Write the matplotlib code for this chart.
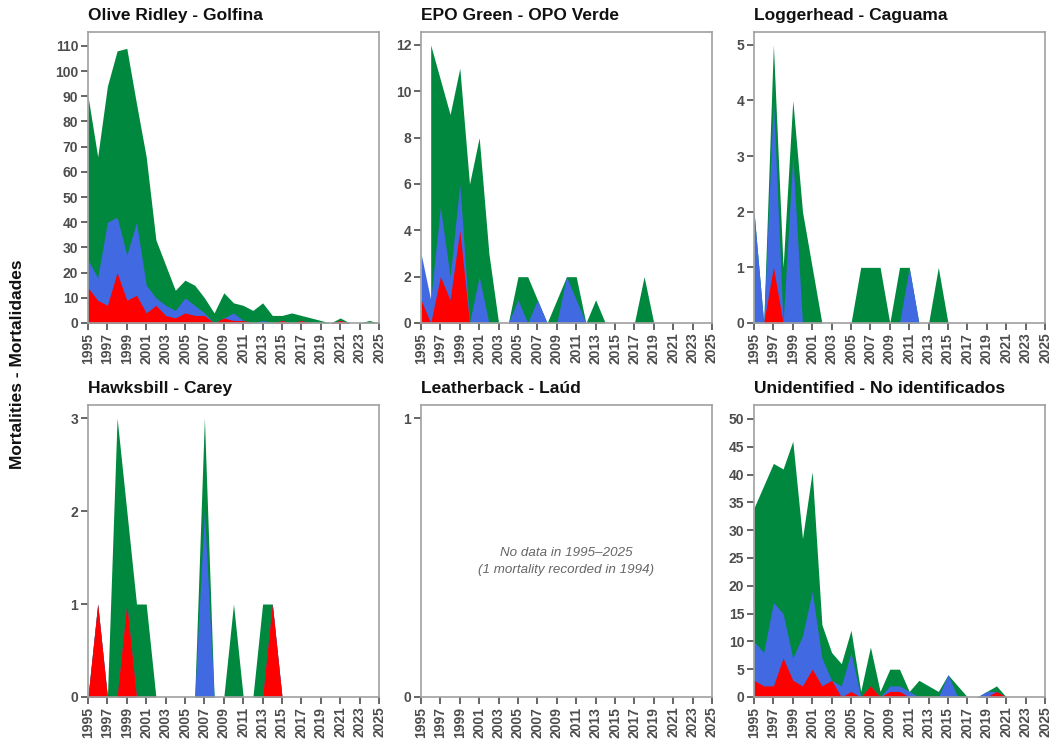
import numpy as np
import matplotlib
matplotlib.use("Agg")
import matplotlib.pyplot as plt

plt.rcParams['font.family'] = ['Liberation Sans', 'DejaVu Sans']

years = list(range(1995, 2026))
nan = float('nan')

# cumulative series per species: red (bottom), blue (middle), green (total)
olive_red = [14, 9, 7, 20, 9, 11, 4, 7, 3, 2, 4, 3, 3, 0, 2, 1, 1, 0, 0, 0, 1, 0, 1, 0, 0, 0, 1, 0, 0, 0, 0]
olive_blue = [25, 18, 40, 42, 27, 40, 15, 10, 7, 5, 10, 7, 4, 0, 2, 4, 1, 0, 1, 0, 1, 0, 1, 0, 0, 0, 1, 0, 0, 0, 0]
olive_green = [90, 66, 94, 108, 109, 87, 66, 33, 23, 13, 17, 15, 10, 4, 12, 8, 7, 5, 8, 3, 3, 4, 3, 2, 1, 0, 2, 0, 0, 1, 0]

epo_red = [1, 0, 2, 1, 4, 0, 0, 0, 0, 0, 0, 0, 0, 0, 0, 0, 0, 0, 0, 0, 0, 0, 0, 0, 0, 0, 0, 0, 0, 0, 0]
epo_blue = [3, 1, 5, 2, 6, 0, 2, 0, 0, 0, 1, 0, 1, 0, 0, 2, 1, 0, 0, 0, 0, 0, 0, 0, 0, 0, 0, 0, 0, 0, 0]
epo_green = [nan, 12, 10.5, 9, 11, 6, 8, 3, 0, 0, 2, 2, 1, 0, 1, 2, 2, 0, 1, 0, 0, 0, 0, 2, 0, 0, 0, 0, 0, 0, 0]

log_red = [0, 0, 1, 0, 0, 0, 0, 0, 0, 0, 0, 0, 0, 0, 0, 0, 0, 0, 0, 0, 0, 0, 0, 0, 0, 0, 0, 0, 0, 0, 0]
log_blue = [2, 0, 4, 0, 3, 0, 0, 0, 0, 0, 0, 0, 0, 0, 0, 0, 1, 0, 0, 0, 0, 0, 0, 0, 0, 0, 0, 0, 0, 0, 0]
log_green = [2, 0, 5, 1, 4, 2, 1, 0, 0, 0, 0, 1, 1, 1, 0, 1, 1, 0, 0, 1, 0, 0, 0, 0, 0, 0, 0, 0, 0, 0, 0]

hawk_red = [0, 1, 0, 0, 1, 0, 0, 0, 0, 0, 0, 0, 0, 0, 0, 0, 0, 0, 0, 1, 0, 0, 0, 0, 0, 0, 0, 0, 0, 0, 0]
hawk_blue = [0, 1, 0, 0, 1, 0, 0, 0, 0, 0, 0, 0, 2, 0, 0, 0, 0, 0, 0, 1, 0, 0, 0, 0, 0, 0, 0, 0, 0, 0, 0]
hawk_green = [0, 1, 0, 3, 2, 1, 1, 0, 0, 0, 0, 0, 3, 0, 0, 1, 0, 0, 1, 1, 0, 0, 0, 0, 0, 0, 0, 0, 0, 0, 0]

leath_red = [nan] * 31
leath_blue = [nan] * 31
leath_green = [nan] * 31

unid_red = [3, 2, 2, 7, 3, 2, 5, 2, 3, 0, 1, 0, 2, 0, 1, 1, 0, 0, 0, 0, 0, 0, 0, 0, 0, 1, 0, 0, 0, 0, 0]
unid_blue = [10, 8, 17, 15, 7, 11, 19, 7, 3, 2, 8, 0, 2, 0, 2, 2, 1, 0, 0, 0, 4, 0, 0, 0, 1, 1, 0, 0, 0, 0, 0]
unid_green = [34, 38, 42, 41, 46, 28.5, 40.5, 13, 8, 6, 12, 1, 9, 1, 5, 5, 1, 3, 2, 1, 4, 2, 0, 0, 1, 2, 0, 0, 0, 0, 0]

titles = ["Olive Ridley - Golfina", "EPO Green - OPO Verde", "Loggerhead - Caguama",
          "Hawksbill - Carey", "Leatherback - Laúd", "Unidentified - No identificados"]
y_ticks = [list(range(0, 111, 10)), list(range(0, 13, 2)), list(range(0, 6)),
           list(range(0, 4)), [0, 1], list(range(0, 51, 5))]
y_tops = [115.5, 12.56, 5.23, 3.14, 1.047, 52.5]
x_ticks = list(range(1995, 2026, 2))
no_data_text = "No data in 1995\u20132025\n(1 mortality recorded in 1994)"

data = [(olive_red, olive_blue, olive_green), (epo_red, epo_blue, epo_green),
        (log_red, log_blue, log_green), (hawk_red, hawk_blue, hawk_green),
        (leath_red, leath_blue, leath_green), (unid_red, unid_blue, unid_green)]

C_RED = "#ff0000"
C_BLUE = "#4169e1"
C_GREEN = "#00893e"
TICK_COLOR = "#4d4d4d"
SPINE_COLOR = "#a0a0a0"

W, H = 1054, 744
fig = plt.figure(figsize=(W / 100, H / 100), dpi=100)

lefts = [88, 421, 754]
row_tb = [(32, 323), (405, 697)]
width_px = 291

x = np.array(years, dtype=float)
for i, (red, blue, green) in enumerate(data):
    r, c = divmod(i, 3)
    top, bot = row_tb[r]
    ax = fig.add_axes([lefts[c] / W, 1 - bot / H, width_px / W, (bot - top) / H])
    g = np.array(green, dtype=float)
    b = np.array(blue, dtype=float)
    rd = np.array(red, dtype=float)
    if not np.all(np.isnan(g)):
        ax.fill_between(x, 0, g, color=C_GREEN, linewidth=0)
        ax.fill_between(x, 0, b, color=C_BLUE, linewidth=0)
        ax.fill_between(x, 0, rd, color=C_RED, linewidth=0)
    else:
        ax.text(0.5, 0.465, no_data_text, transform=ax.transAxes, ha='center', va='center',
                fontsize=9.6, style='italic', color='#666666', linespacing=1.55)
    ax.set_xlim(1995, 2025)
    ax.set_ylim(0, y_tops[i])
    ax.set_xticks(x_ticks)
    ax.set_xticklabels([str(t) for t in x_ticks], rotation=90)
    ax.set_yticks(y_ticks[i])
    ax.tick_params(axis='both', labelsize=10, colors=TICK_COLOR, length=5, width=1.2, pad=2)
    for lab in ax.get_xticklabels() + ax.get_yticklabels():
        lab.set_fontweight('bold')
    for sp in ax.spines.values():
        sp.set_color(SPINE_COLOR)
        sp.set_linewidth(1.2)
    ax.set_title(titles[i], loc='left', fontsize=12.5, fontweight='bold', color='#111111', pad=8.5)

fig.text(18 / W, 1 - 364 / H, "Mortalities - Mortalidades", rotation=90, ha='center', va='center',
         fontsize=12.5, fontweight='bold', color='#111111')

fig.savefig("out.png", dpi=100)
